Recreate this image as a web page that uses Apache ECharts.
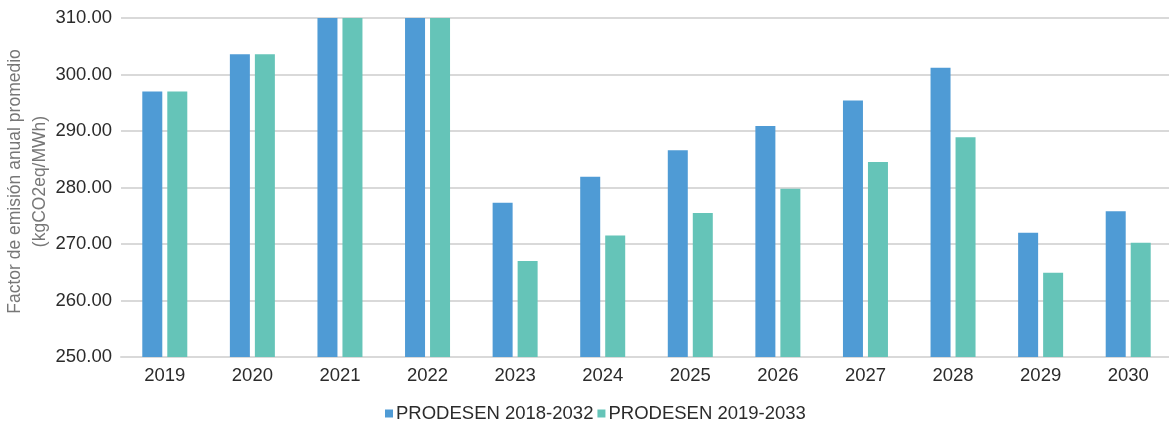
<!DOCTYPE html>
<html>
<head>
<meta charset="utf-8">
<style>
  html, body { margin: 0; padding: 0; background: #ffffff; }
  #chart { width: 1169px; height: 423px; }
</style>
<script src="https://cdn.jsdelivr.net/npm/echarts@6/dist/echarts.min.js"></script>
</head>
<body>
<div id="chart"></div>
<script>
// Average annual emission factor per year, two PRODESEN planning editions
const years = ['2019', '2020', '2021', '2022', '2023', '2024', '2025', '2026', '2027', '2028', '2029', '2030'];
const prodesen2018 = [297.0, 303.6, 310.0, 310.0, 277.3, 281.9, 286.6, 290.9, 295.4, 301.2, 272.0, 275.8];
const prodesen2019 = [297.0, 303.6, 310.0, 310.0, 267.0, 271.5, 275.5, 279.8, 284.5, 288.9, 264.9, 270.2];
const seriesNames = ['PRODESEN 2018-2032', 'PRODESEN 2019-2033'];
const yAxisTitle = 'Factor de emisión anual promedio\n(kgCO2eq/MWh)';

const FONT = '"Liberation Sans", Arial, Helvetica, sans-serif';
const chart = echarts.init(document.getElementById('chart'), null, { renderer: 'canvas' });

chart.setOption({
  animation: false,
  color: ['#4f9bd5', '#65c4b8'],
  textStyle: { fontFamily: FONT },
  grid: {
    left: 121, top: 18, width: 1051, height: 339,
    containLabel: false, outerBoundsMode: 'none'
  },
  legend: {
    data: seriesNames,
    left: 380,
    top: 399,
    icon: 'rect',
    itemWidth: 8,
    itemHeight: 8,
    itemGap: 4,
    textStyle: { fontFamily: FONT, fontSize: 18.5, color: '#2b2b2b', padding: [0, 0, 0, -2] }
  },
  xAxis: {
    type: 'category',
    data: years,
    axisLine: { show: true, lineStyle: { color: '#d9d9d9', width: 2 } },
    axisTick: { show: false },
    axisLabel: { fontFamily: FONT, fontSize: 18.5, color: '#2b2b2b', margin: 9 }
  },
  yAxis: {
    type: 'value',
    min: 250,
    max: 310,
    interval: 10,
    name: yAxisTitle,
    nameLocation: 'middle',
    nameRotate: 90,
    nameGap: 68,
    nameMoveOverlap: false,
    nameTextStyle: { fontFamily: FONT, fontSize: 17.5, color: '#777777', lineHeight: 25, padding: [0, 0, 0, 12] },
    axisLine: { show: false },
    axisTick: { show: false },
    splitLine: { lineStyle: { color: '#d9d9d9', width: 2 } },
    axisLabel: {
      fontFamily: FONT, fontSize: 18.5, color: '#2b2b2b', margin: 9,
      formatter: v => v.toFixed(2)
    }
  },
  series: [
    {
      name: seriesNames[0], type: 'bar', data: prodesen2018,
      barWidth: 20, barGap: '25%'
    },
    {
      name: seriesNames[1], type: 'bar', data: prodesen2019,
      barWidth: 20, barGap: '25%'
    }
  ]
});
</script>
</body>
</html>
